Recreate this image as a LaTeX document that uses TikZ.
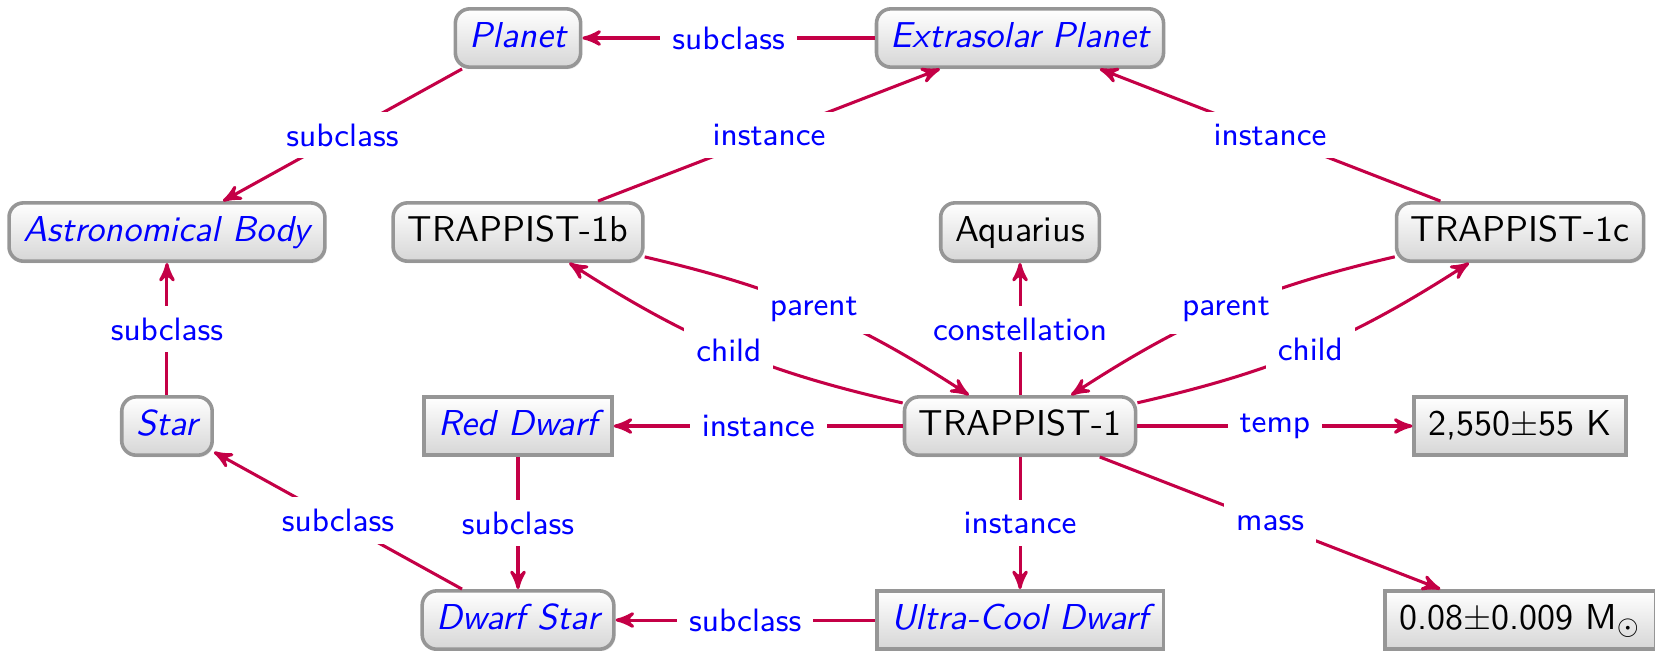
\documentclass[tikz,border=0pt]{standalone}
\usepackage{amsmath}
\usepackage{tikz}
\usepackage{xcolor}
\usetikzlibrary{arrows}
\usetikzlibrary{shadows}

\definecolor{relcolor}{RGB}{196,0,70}
\definecolor{boxborder}{RGB}{150,150,150}
\definecolor{boxbottom}{RGB}{214,214,214}

\tikzset{
	item/.style={draw=boxborder, line width={0.7mm/2}, top color=white, bottom color=boxbottom,
		text height=7pt, text depth=2pt, inner xsep=4pt, inner ysep=3.6pt,
		drop shadow={shadow xshift=0.4pt, shadow yshift=-0.6pt, opacity=0.15}},
	thing/.style={item, rounded corners=4pt},
	valuebox/.style={item},
	classname/.style={text=blue, font=\sffamily\itshape},
	rel/.style={-stealth', draw=relcolor, line width={0.85pt}},
	rellabel/.style={fill=white, text=blue, font=\sffamily\small}
}

\begin{document}
\begin{tikzpicture}[font=\sffamily]
				\useasboundingbox (0, 0) rectangle (16.157, 6.346);
				
				\node[thing, classname] (planet) at ( 5.057,  5.975) {Planet};
				\node[thing, classname] (exoplanet) at ( 9.958,  5.975) {Extrasolar Planet};
				
				\node[thing, classname] (astro) at ( 1.630,  4.081) {Astronomical Body};
				\node[thing] (tb) at ( 5.057,  4.081) {TRAPPIST-1b};
				\node[thing] (aqr) at ( 9.958,  4.081) {Aquarius};
				\node[thing] (tc) at (14.840,  4.081) {TRAPPIST-1c};
				
				\node[thing, classname] (star) at ( 1.630,  2.187) {Star};
				\node[valuebox, classname] (reddwarf) at ( 5.057,  2.187) {Red Dwarf};
				\node[thing] (t1) at ( 9.958,  2.187) {TRAPPIST-1};
				\node[valuebox] (temp) at (14.840,  2.187) {2,550$\pm$55 K};
				
				\node[thing, classname] (dwarfstar) at ( 5.057,  0.293) {Dwarf Star};
				\node[valuebox, classname] (ucd) at ( 9.958,  0.293) {Ultra-Cool Dwarf};
				\node[valuebox] (mass) at (14.840,  0.293) {0.08$\pm$0.009 M$_\odot$};
				
				\draw[rel] (exoplanet) -- node[rellabel] {subclass} (planet);
				\draw[rel] (planet) -- node[rellabel] {subclass} (astro);
				\draw[rel] (tb) -- node[rellabel] {instance} (exoplanet);
				\draw[rel] (tc) -- node[rellabel] {instance} (exoplanet);
				\draw[rel] (star) -- node[rellabel] {subclass} (astro);
				
				\draw[rel] (tb) to[bend left=10] node[rellabel] {parent} (t1);
				\draw[rel] (t1) to[bend left=10] node[rellabel] {child} (tb);
				\draw[rel] (tc) to[bend right=10] node[rellabel] {parent} (t1);
				\draw[rel] (t1) to[bend right=10] node[rellabel] {child} (tc);
				\draw[rel] (t1) -- node[rellabel] {constellation} (aqr);
				
				\draw[rel] (t1) -- node[rellabel] {instance} (reddwarf);
				\draw[rel] (t1) -- node[rellabel] {temp} (temp);
				\draw[rel] (t1) -- node[rellabel] {instance} (ucd);
				\draw[rel] (t1) -- node[rellabel] {mass} (mass);
				
				\draw[rel] (reddwarf) -- node[rellabel] {subclass} (dwarfstar);
				\draw[rel] (dwarfstar) -- node[rellabel] {subclass} (star);
				\draw[rel] (ucd) -- node[rellabel] {subclass} (dwarfstar);
				
			\end{tikzpicture}
\end{document}
